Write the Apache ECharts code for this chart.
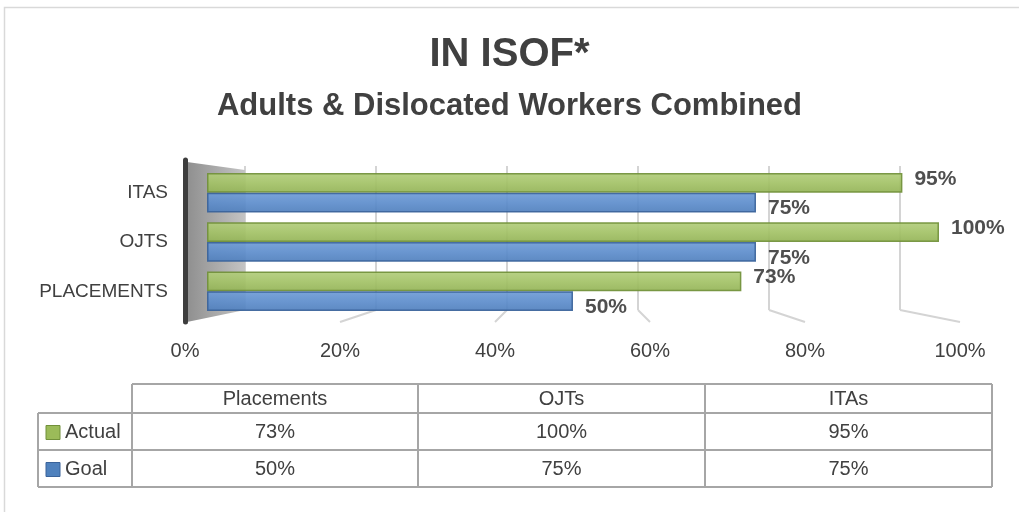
<!DOCTYPE html>
<html>
<head>
<meta charset="utf-8">
<title>IN ISOF*</title>
<script src="https://cdn.jsdelivr.net/npm/echarts@6/dist/echarts.min.js"></script>
<style>
  html, body { margin: 0; padding: 0; background: #fff; }
  #chart { width: 1019px; height: 512px; }
</style>
</head>
<body>
<div id="chart"></div>
<script>
// categories bottom -> top on the bar axis
const categories = ['PLACEMENTS', 'OJTS', 'ITAS']
const tableHeaders = ['Placements', 'OJTs', 'ITAs']
const actualValues = [73, 100, 95]
const goalValues = [50, 75, 75]
const tickValues = [0, 20, 40, 60, 80, 100]

const font = 'Liberation Sans, Arial, sans-serif'
const textColor = '#404040'
const gridColor = '#d4d4d4'

// bars sit between the back wall and the front edge of the floor (fake 3d)
const barGrid = { left: 207, top: 168, width: 732, height: 148 }
const frontGrid = { left: 185, top: 160, width: 775, height: 162 }
const backGrid = { left: 245, top: 166, width: 655, height: 144 }

// data table layout
const colEdges = [38, 132, 418, 705, 992]
const rowEdges = [384, 413, 450, 487]

const green = {
  fill: new echarts.graphic.LinearGradient(0, 0, 0, 1, [
    { offset: 0, color: '#b2cd7c' }, { offset: 0.5, color: '#a3c266' }, { offset: 1, color: '#93b356' }
  ]),
  border: '#71903a',
  key: '#9bbb59'
}
const blue = {
  fill: new echarts.graphic.LinearGradient(0, 0, 0, 1, [
    { offset: 0, color: '#6f9cd6' }, { offset: 0.5, color: '#5d8dcc' }, { offset: 1, color: '#4f7fbd' }
  ]),
  border: '#3a639a',
  key: '#4f81bd'
}

const myChart = echarts.init(document.getElementById('chart'))

function barLabel(offsetY) {
  return {
    show: true,
    position: 'right',
    distance: 12,
    offset: [0, offsetY],
    formatter: '{c}%',
    fontFamily: font,
    fontWeight: 'bold',
    fontSize: 21,
    color: textColor
  }
}

const option = {
  backgroundColor: '#fff',
  animation: false,
  title: [
    {
      text: 'IN ISOF*', left: 'center', top: 30,
      textStyle: { fontFamily: font, fontSize: 40, fontWeight: 'bold', color: textColor }
    },
    {
      text: 'Adults & Dislocated Workers Combined', left: 'center', top: 86,
      textStyle: { fontFamily: font, fontSize: 31, fontWeight: 'bold', color: textColor }
    }
  ],
  grid: [
    Object.assign({ containLabel: false }, barGrid),
    Object.assign({ containLabel: false }, frontGrid),
    Object.assign({ containLabel: false }, backGrid)
  ],
  xAxis: [
    { gridIndex: 0, type: 'value', min: 0, max: 100, interval: 20, show: false },
    {
      gridIndex: 1, type: 'value', min: 0, max: 100, interval: 20,
      axisLine: { show: false }, axisTick: { show: false }, splitLine: { show: false },
      axisLabel: { formatter: '{value}%', fontFamily: font, fontSize: 20, color: textColor, margin: 19 }
    },
    {
      gridIndex: 2, type: 'value', min: 0, max: 100, interval: 20,
      axisLine: { show: false }, axisTick: { show: false }, axisLabel: { show: false },
      splitLine: { show: true, lineStyle: { color: gridColor, width: 2 } }
    }
  ],
  yAxis: [
    {
      gridIndex: 0, type: 'category', data: categories,
      axisLine: { show: false }, axisTick: { show: false },
      axisLabel: { fontFamily: font, fontSize: 19, color: textColor, margin: 39 }
    },
    {
      gridIndex: 1, type: 'value', min: 0, max: 1,
      axisLine: { show: true, lineStyle: { color: '#3d3d3d', width: 5 } },
      axisTick: { show: false }, axisLabel: { show: false }, splitLine: { show: false }
    },
    {
      gridIndex: 2, type: 'value', min: 0, max: 1, show: false, splitLine: { show: false }
    }
  ],
  series: [
    {
      name: 'Actual', type: 'bar', xAxisIndex: 0, yAxisIndex: 0,
      data: actualValues, barGap: '0%', barCategoryGap: '20%',
      itemStyle: { color: green.fill, borderColor: green.border, borderWidth: 1.5, opacity: 0.92 },
      label: barLabel(-4)
    },
    {
      name: 'Goal', type: 'bar', xAxisIndex: 0, yAxisIndex: 0,
      data: goalValues, barGap: '0%', barCategoryGap: '20%',
      itemStyle: { color: blue.fill, borderColor: blue.border, borderWidth: 1.5, opacity: 0.92 },
      label: barLabel(6)
    }
  ]
}

myChart.setOption(option)

// side wall, floor lines and data table drawn once the grids are laid out
function buildGraphics() {
  const els = []
  const frontX = v => myChart.convertToPixel({ xAxisIndex: 1 }, v)
  const backX = v => myChart.convertToPixel({ xAxisIndex: 2 }, v)
  const frontBottom = frontGrid.top + frontGrid.height
  const backBottom = backGrid.top + backGrid.height

  // outer frame of the chart object
  els.push({
    type: 'polyline', z: 0, silent: true,
    shape: { points: [[4.5, 520], [4.5, 7.5], [1030, 7.5]] },
    style: { stroke: '#d9d9d9', lineWidth: 1.5, fill: null }
  })

  // left side wall
  els.push({
    type: 'polygon', z: 0, silent: true,
    shape: {
      points: [
        [frontX(0) + 2, frontGrid.top + 2],
        [backX(0), backGrid.top + 4],
        [backX(0), backBottom],
        [frontX(0) + 2, frontBottom]
      ]
    },
    style: {
      fill: new echarts.graphic.LinearGradient(0, 0, 1, 0, [
        { offset: 0, color: '#8f8f8f' }, { offset: 1, color: '#c4c4c4' }
      ])
    }
  })

  // floor lines from the back wall to the front edge
  tickValues.slice(1).forEach(t => {
    els.push({
      type: 'line', z: 0, silent: true,
      shape: { x1: backX(t), y1: backBottom, x2: frontX(t), y2: frontBottom },
      style: { stroke: gridColor, lineWidth: 2 }
    })
  })

  // data table
  const lineStyle = { stroke: '#a6a6a6', lineWidth: 2 }
  const left = colEdges[0]
  const right = colEdges[colEdges.length - 1]
  els.push({ type: 'line', silent: true, shape: { x1: colEdges[1], y1: rowEdges[0], x2: right, y2: rowEdges[0] }, style: lineStyle })
  rowEdges.slice(1).forEach(y => {
    els.push({ type: 'line', silent: true, shape: { x1: left, y1: y, x2: right, y2: y }, style: lineStyle })
  })
  colEdges.forEach((x, i) => {
    const y1 = i === 0 ? rowEdges[1] : rowEdges[0]
    els.push({ type: 'line', silent: true, shape: { x1: x, y1: y1, x2: x, y2: rowEdges[rowEdges.length - 1] }, style: lineStyle })
  })

  const cellText = (txt, x, y, align) => ({
    type: 'text', silent: true, x: x, y: y,
    style: { text: txt, font: '20px ' + font, fill: textColor, align: align || 'center', verticalAlign: 'middle' }
  })

  tableHeaders.forEach((h, i) => {
    els.push(cellText(h, (colEdges[i + 1] + colEdges[i + 2]) / 2, (rowEdges[0] + rowEdges[1]) / 2 + 1))
  })

  const rows = [
    { name: 'Actual', values: actualValues, key: green.key, border: green.border },
    { name: 'Goal', values: goalValues, key: blue.key, border: blue.border }
  ]
  rows.forEach((r, ri) => {
    const cy = (rowEdges[ri + 1] + rowEdges[ri + 2]) / 2 + 1
    els.push({
      type: 'rect', silent: true,
      shape: { x: left + 8, y: cy - 7, width: 14, height: 14 },
      style: { fill: r.key, stroke: r.border, lineWidth: 1 }
    })
    els.push(cellText(r.name, left + 27, cy, 'left'))
    r.values.forEach((v, i) => {
      els.push(cellText(v + '%', (colEdges[i + 1] + colEdges[i + 2]) / 2, cy))
    })
  })

  myChart.setOption({ graphic: { elements: els } })
}

buildGraphics()

window.addEventListener('resize', () => {
  myChart && myChart.resize()
})
</script>
</body>
</html>
